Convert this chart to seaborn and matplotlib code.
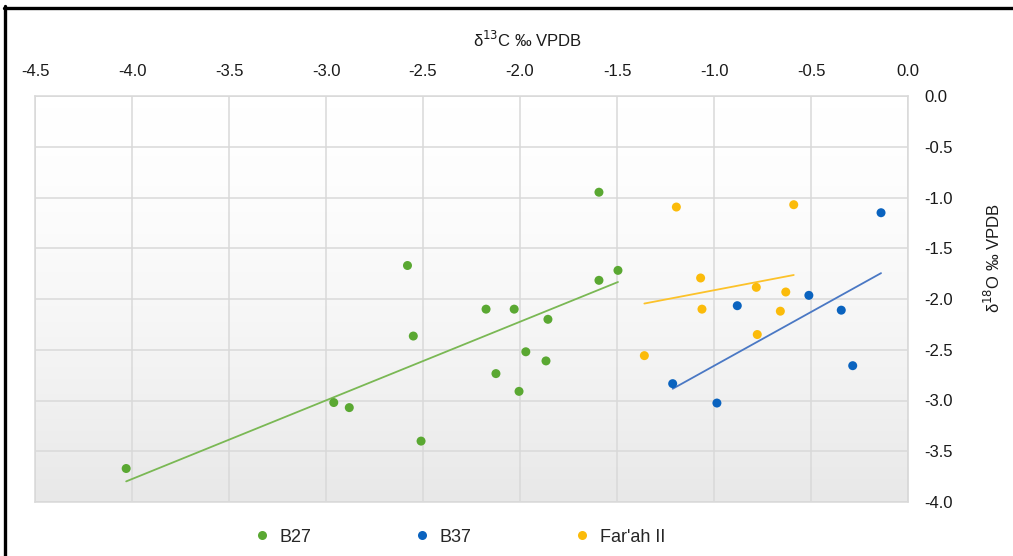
"""
Stable isotope scatter: d13C vs d18O for B27, B37 and Far'ah II
"""

import numpy as np
import pandas as pd
import matplotlib.pyplot as plt
import seaborn as sns
from matplotlib.lines import Line2D

# values
b27_c13 = [-4.03, -2.96, -2.88, -2.51, -2.58, -2.55, -2.175, -2.03, -1.856,
           -1.97, -2.124, -2.005, -1.866, -1.593, -1.593, -1.495]
b27_o18 = [-3.67, -3.02, -3.07, -3.40, -1.67, -2.365, -2.10, -2.10, -2.20,
           -2.52, -2.735, -2.91, -2.61, -0.948, -1.816, -1.718]

b37_c13 = [-0.139, -0.511, -0.880, -0.344, -1.213, -0.985, -0.285]
b37_o18 = [-1.15, -1.964, -2.066, -2.11, -2.834, -3.025, -2.657]

farah_c13 = [-1.194, -0.589, -1.069, -0.782, -0.630, -1.062, -0.658, -0.777, -1.359]
farah_o18 = [-1.094, -1.071, -1.793, -1.885, -1.931, -2.10, -2.12, -2.35, -2.558]

series_names = ["B27", "B37", "Far'ah II"]
point_colors = ["#5aa832", "#0a63bf", "#fbbb0a"]
line_colors = ["#7ab854", "#4a78c4", "#fcc22a"]

x_ticks = [-4.5, -4.0, -3.5, -3.0, -2.5, -2.0, -1.5, -1.0, -0.5, 0.0]
y_ticks = [0.0, -0.5, -1.0, -1.5, -2.0, -2.5, -3.0, -3.5, -4.0]

df = pd.DataFrame({
    "d13C": b27_c13 + b37_c13 + farah_c13,
    "d18O": b27_o18 + b37_o18 + farah_o18,
    "site": (["B27"] * len(b27_c13) + ["B37"] * len(b37_c13)
             + ["Far'ah II"] * len(farah_c13)),
})

sns.set_theme(style="white")
plt.rcParams["font.family"] = ["Liberation Sans", "DejaVu Sans"]

fig = plt.figure(figsize=(10.13, 5.56), dpi=100)
ax = fig.add_axes([35 / 1013, 1 - 502 / 556, 873 / 1013, 406 / 556])

# soft vertical gradient behind the plot area (white on top, grey below)
grad = (np.linspace(1.0, 0.0, 256) ** 1.6).reshape(-1, 1)
ax.imshow(grad, cmap=sns.blend_palette(["#ffffff", "#e8e8e8"], as_cmap=True),
          extent=[0, 1, 0, 1], transform=ax.transAxes, aspect="auto",
          zorder=0, vmin=0, vmax=1, origin="lower")

# trend lines
for name, lc in zip(series_names, line_colors):
    sub = df[df["site"] == name]
    sns.regplot(data=sub, x="d13C", y="d18O", ax=ax, scatter=False, ci=None,
                truncate=True, line_kws={"color": lc, "lw": 1.3, "zorder": 3})

sns.scatterplot(data=df, x="d13C", y="d18O", hue="site", hue_order=series_names,
                palette=point_colors, s=42, edgecolor="none", ax=ax, zorder=4,
                legend=False)

ax.set_xlim(-4.5, 0.0)
ax.set_ylim(-4.0, 0.0)
ax.set_xticks(x_ticks)
ax.set_xticklabels([f"{v:.1f}" for v in x_ticks])
ax.set_yticks(y_ticks)
ax.set_yticklabels([f"{v:.1f}" for v in y_ticks])
ax.xaxis.tick_top()
ax.yaxis.tick_right()
ax.tick_params(axis="x", length=0, pad=12, labelsize=12, labelcolor="#1a1a1a")
ax.tick_params(axis="y", length=0, pad=12, labelsize=12, labelcolor="#1a1a1a")
ax.set_xlabel("")
ax.set_ylabel("")
ax.grid(True, color="#d9d9d9", lw=1.1)
ax.set_axisbelow(True)
for sp in ax.spines.values():
    sp.set_color("#d9d9d9")
    sp.set_linewidth(1.1)

fig.text(528 / 1013, 1 - 40 / 556, "δ$^{13}$C ‰ VPDB", ha="center", va="center",
         fontsize=12, color="#1a1a1a")
fig.text(993 / 1013, 1 - 258 / 556, "δ$^{18}$O ‰ VPDB", ha="center", va="center",
         rotation=90, fontsize=12, color="#1a1a1a")

handles = [Line2D([], [], ls="none", marker="o", markersize=6.5,
                  markerfacecolor=c, markeredgecolor="none") for c in point_colors]
fig.legend(handles, series_names, loc="center", bbox_to_anchor=(459 / 1013, 1 - 537 / 556),
           ncol=3, frameon=False, fontsize=13, handlelength=1.0, handletextpad=0.5,
           columnspacing=5.6)

# black frame (top and left edges visible in the reference)
fig.add_artist(Line2D([4.5 / 1013, 4.5 / 1013], [0, 1 - 6 / 556], color="black",
                      lw=2.4, transform=fig.transFigure))
fig.add_artist(Line2D([3.5 / 1013, 1], [1 - 7.5 / 556, 1 - 7.5 / 556], color="black",
                      lw=2.4, transform=fig.transFigure))

fig.savefig("out.png", dpi=100)
